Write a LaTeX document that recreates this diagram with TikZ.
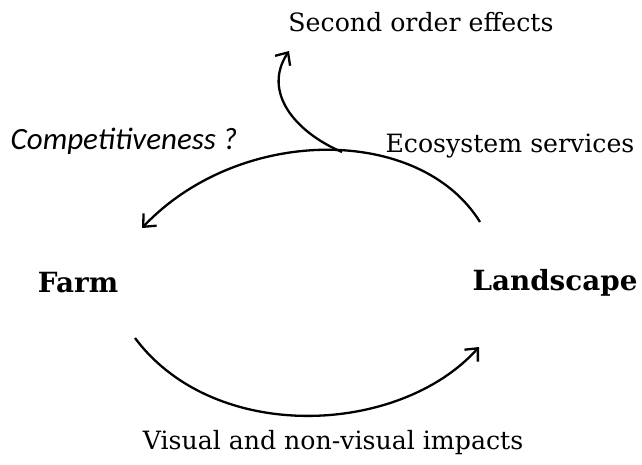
\documentclass[tikz,border=0pt]{standalone}
\usepackage{fontspec}
\setmainfont{DejaVu Serif}
\newfontfamily\calfont{Carlito}
\usetikzlibrary{arrows.meta}
\tikzset{
  lbl/.style={inner sep=0pt, font=\fontsize{25.2}{28}\selectfont},
  big/.style={inner sep=0pt, font=\fontsize{27.8}{32}\selectfont\bfseries},
  arr/.style={line width=2.3pt, -{Straight Barb[length=10pt,width=18pt,line width=2.3pt]}}
}
\begin{document}
\begin{tikzpicture}[x=1pt,y=-1pt]
\useasboundingbox[fill=white] (0,0) rectangle (642,464);
\node[lbl] (second) at (421,22) {Second order effects};
\node[inner sep=0pt, font=\calfont\itshape\fontsize{31}{34}\selectfont] (comp) at (124,141) {Competitiveness ?};
\node[lbl] (eco) at (510,146) {Ecosystem services};
\node[big] (farm) at (78,283) {Farm};
\node[big] (land) at (555,283) {Landscape};
\node[lbl] (vis) at (333,443) {Visual and non-visual impacts};
\coordinate (a1) at (480,222);
\coordinate (a2) at (142,228);
\coordinate (br) at (342,152);
\coordinate (b2) at (289,51);
\coordinate (c1) at (135,338);
\coordinate (c2) at (479,347);
\draw[arr] (a1) .. controls (420,125) and (240,125) .. (a2);
\draw[arr] (br) .. controls (295,132) and (262,92) .. (b2);
\draw[arr] (c1) .. controls (215,445) and (400,435) .. (c2);
\end{tikzpicture}
\end{document}
